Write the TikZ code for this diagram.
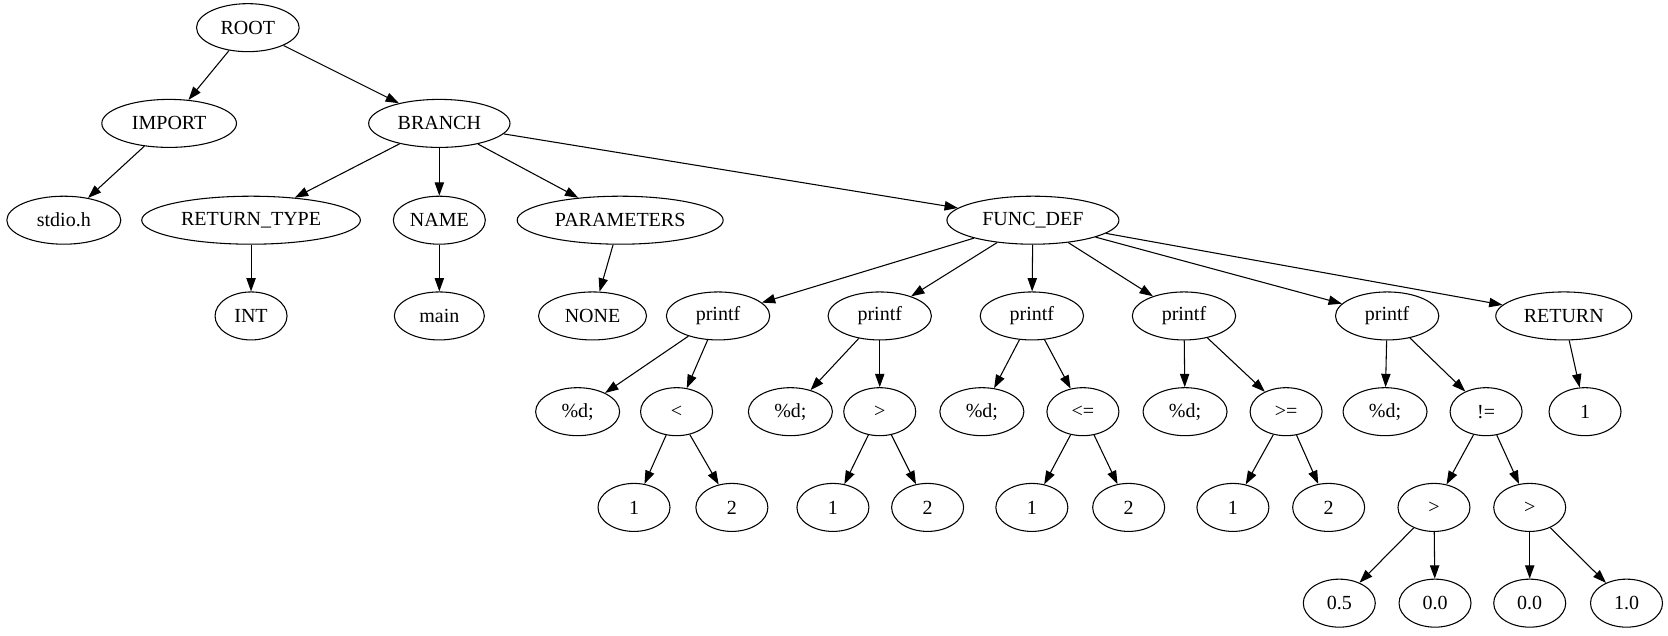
\documentclass[tikz,border=0pt]{standalone}
\usepackage{fontspec}
\setmainfont{Liberation Serif}
\usetikzlibrary{arrows.meta,shapes.geometric}
\tikzset{
  nd/.style={ellipse,draw,line width=0.8pt,inner xsep=0pt,inner ysep=1pt,minimum width=54pt,minimum height=36pt,font=\fontsize{15}{17}\selectfont},
  ed/.style={line width=0.8pt,-{Triangle[length=10pt,width=7pt]}}
}
\begin{document}
\begin{tikzpicture}[x=0.7978pt,y=-0.7978pt]
\useasboundingbox (0,0) rectangle (1568,597);
\node[nd,minimum width=77pt] (root) at (233,26) {ROOT};
\node[nd,minimum width=101pt] (import) at (159,116) {IMPORT};
\node[nd,minimum width=106pt] (branch) at (413,116) {BRANCH};
\node[nd,minimum width=85.5pt] (stdio) at (60,207) {stdio.h};
\node[nd,minimum width=164pt] (rettype) at (236,207) {RETURN\_TYPE};
\node[nd,minimum width=69pt] (name) at (413,207) {NAME};
\node[nd,minimum width=154.5pt] (params) at (583,207) {PARAMETERS};
\node[nd,minimum width=129pt] (funcdef) at (971,207) {FUNC\_DEF};
\node[nd] (int) at (236,297) {INT};
\node[nd,minimum width=67.5pt] (main) at (413,297) {main};
\node[nd,minimum width=81pt] (none) at (557,297) {NONE};
\node[nd,minimum width=77.5pt] (p1) at (675,297) {printf};
\node[nd,minimum width=77.5pt] (p2) at (827,297) {printf};
\node[nd,minimum width=77.5pt] (p3) at (970,297) {printf};
\node[nd,minimum width=77.5pt] (p4) at (1113,297) {printf};
\node[nd,minimum width=77.5pt] (p5) at (1304,297) {printf};
\node[nd,minimum width=102pt] (ret) at (1470,297) {RETURN};
\node[nd,minimum width=63pt] (d1) at (543,387) {\%d;};
\node[nd] (lt) at (636,387) {<};
\node[nd,minimum width=63pt] (d2) at (743,387) {\%d;};
\node[nd] (gt) at (827,387) {>};
\node[nd,minimum width=63pt] (d3) at (923,387) {\%d;};
\node[nd] (le) at (1018,387) {<=};
\node[nd,minimum width=63pt] (d4) at (1114,387) {\%d;};
\node[nd] (ge) at (1209,387) {>=};
\node[nd,minimum width=63pt] (d5) at (1302,387) {\%d;};
\node[nd] (ne) at (1397,387) {!=};
\node[nd] (one) at (1490,387) {1};
\node[nd] (a1) at (596,477) {1};
\node[nd] (a2) at (688,477) {2};
\node[nd] (b1) at (783,477) {1};
\node[nd] (b2) at (872,477) {2};
\node[nd] (c1) at (970,477) {1};
\node[nd] (c2) at (1061,477) {2};
\node[nd] (e1) at (1159,477) {1};
\node[nd] (e2) at (1249,477) {2};
\node[nd] (g1) at (1348,477) {>};
\node[nd] (g2) at (1438,477) {>};
\node[nd] (h1) at (1259,567) {0.5};
\node[nd] (h2) at (1349,567) {0.0};
\node[nd] (h3) at (1438,567) {0.0};
\node[nd] (h4) at (1529,567) {1.0};
\foreach \a/\b in {root/import,root/branch,import/stdio,branch/rettype,branch/name,branch/params,branch/funcdef,
  rettype/int,name/main,params/none,funcdef/p1,funcdef/p2,funcdef/p3,funcdef/p4,funcdef/p5,funcdef/ret,
  p1/d1,p1/lt,lt/a1,lt/a2,p2/d2,p2/gt,gt/b1,gt/b2,p3/d3,p3/le,le/c1,le/c2,p4/d4,p4/ge,ge/e1,ge/e2,
  p5/d5,p5/ne,ne/g1,ne/g2,g1/h1,g1/h2,g2/h3,g2/h4,ret/one}
  \draw[ed] (\a) -- (\b);
\end{tikzpicture}
\end{document}
